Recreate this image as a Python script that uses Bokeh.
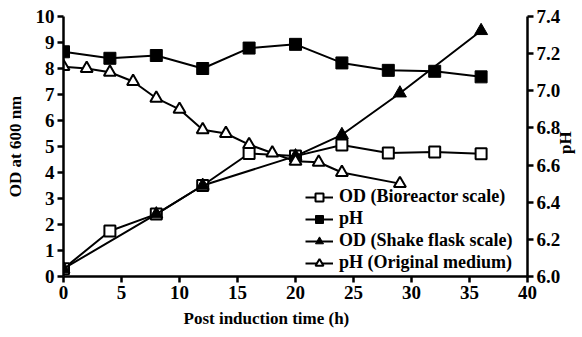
import math
from bokeh.plotting import figure
from bokeh.models import (Range1d, LinearAxis, FixedTicker, PrintfTickFormatter,
                          Legend, LegendItem, Title)
from bokeh.embed import file_html
from bokeh.resources import INLINE

# Bioreactor culture: OD and pH sampled every 4 h
t_bio = [0, 4, 8, 12, 16, 20, 24, 28, 32, 36]
od_bio = [0.3, 1.75, 2.4, 3.5, 4.73, 4.63, 5.06, 4.75, 4.79, 4.72]
ph_bio = [7.21, 7.175, 7.19, 7.12, 7.23, 7.25, 7.15, 7.11, 7.105, 7.075]

# Shake flask culture OD
t_flask = [0, 8, 12, 20, 24, 29, 36]
od_flask = [0.3, 2.4, 3.5, 4.63, 5.45, 7.05, 9.45]

# pH in the original medium
t_ph_orig = [0, 2, 4, 6, 8, 10, 12, 14, 16, 18, 20, 22, 24, 29]
ph_orig = [7.13, 7.12, 7.10, 7.05, 6.96, 6.90, 6.79, 6.77, 6.71, 6.665,
           6.62, 6.615, 6.56, 6.50]

x_ticks = [0, 5, 10, 15, 20, 25, 30, 35, 40]
od_ticks = [0, 1, 2, 3, 4, 5, 6, 7, 8, 9, 10]
ph_ticks = [6.0, 6.2, 6.4, 6.6, 6.8, 7.0, 7.2, 7.4]

FONT = "Liberation Serif"

p = figure(frame_width=464, frame_height=260,
           x_range=Range1d(0, 40), y_range=Range1d(0, 10),
           output_backend="svg", toolbar_location=None,
           min_border_left=63, min_border_right=55,
           min_border_top=16, min_border_bottom=10)
p.extra_y_ranges = {"ph": Range1d(6.0, 7.4)}
p.outline_line_color = None
p.grid.visible = False
p.background_fill_color = "white"
p.border_fill_color = "white"

ph_axis = LinearAxis(y_range_name="ph")
p.add_layout(ph_axis, "right")

for ax in [p.xaxis[0], p.yaxis[0], ph_axis]:
    ax.axis_line_width = 2.5
    ax.axis_line_color = "black"
    ax.major_tick_line_width = 2.5
    ax.major_tick_line_color = "black"
    ax.major_tick_in = 0
    ax.major_tick_out = 6
    ax.minor_tick_line_color = None
    ax.major_label_text_font = FONT
    ax.major_label_text_font_size = "19px"
    ax.major_label_text_font_style = "bold"
    ax.major_label_text_color = "black"
    ax.major_label_standoff = 3
    ax.axis_label_text_font = FONT
    ax.axis_label_text_font_size = "17px"
    ax.axis_label_text_font_style = "bold"
    ax.axis_label_text_color = "black"

p.xaxis[0].ticker = FixedTicker(ticks=x_ticks)
p.yaxis[0].ticker = FixedTicker(ticks=od_ticks)
ph_axis.ticker = FixedTicker(ticks=ph_ticks)
ph_axis.formatter = PrintfTickFormatter(format="%.1f")

p.yaxis[0].axis_label = "OD at 600 nm"
p.yaxis[0].axis_label_standoff = 8

# right-hand title "pH", written bottom to top like the left one:
# a bare axis whose single tick label carries the text
ph_title_pos = 6.66
ph_title = LinearAxis(y_range_name="ph",
                      ticker=FixedTicker(ticks=[ph_title_pos]),
                      major_label_overrides={ph_title_pos: "pH"},
                      major_label_orientation=math.pi / 2,
                      axis_line_color=None, major_tick_line_color=None,
                      minor_tick_line_color=None, major_tick_in=0,
                      major_tick_out=0, major_label_standoff=2,
                      major_label_text_font=FONT,
                      major_label_text_font_size="17px",
                      major_label_text_font_style="bold",
                      major_label_text_color="black")
p.add_layout(ph_title, "right")

xt = Title(text="Post induction time (h)", align="left", offset=120,
           text_font=FONT, text_font_size="17px", text_font_style="bold",
           text_color="black", standoff=10)
p.add_layout(xt, "below")

LW = 2
# OD, bioreactor scale (open squares)
l1 = p.line(t_bio, od_bio, line_width=LW, color="black")
m1 = p.scatter(t_bio, od_bio, marker="square", size=11, line_width=2,
               line_color="black", fill_color="white")
# pH, bioreactor (filled squares)
l2 = p.line(t_bio, ph_bio, line_width=LW, color="black", y_range_name="ph")
m2 = p.scatter(t_bio, ph_bio, marker="square", size=12, line_width=1,
               line_color="black", fill_color="black", y_range_name="ph")
# OD, shake flask scale (filled triangles)
l3 = p.line(t_flask, od_flask, line_width=LW, color="black")
m3 = p.scatter(t_flask, od_flask, marker="triangle", size=13, line_width=1,
               line_color="black", fill_color="black")
# pH, original medium (open triangles)
l4 = p.line(t_ph_orig, ph_orig, line_width=LW, color="black", y_range_name="ph")
m4 = p.scatter(t_ph_orig, ph_orig, marker="triangle", size=12, line_width=2,
               line_color="black", fill_color="white", y_range_name="ph")

legend = Legend(items=[
    LegendItem(label="OD (Bioreactor scale)", renderers=[l1, m1]),
    LegendItem(label="pH", renderers=[l2, m2]),
    LegendItem(label="OD (Shake flask scale)", renderers=[l3, m3]),
    LegendItem(label="pH (Original medium)", renderers=[l4, m4]),
], location=(242, 3))
legend.background_fill_alpha = 0
legend.border_line_color = None
legend.padding = 0
legend.margin = 0
legend.spacing = 1
legend.glyph_width = 28
legend.glyph_height = 20
legend.label_height = 20
legend.label_standoff = 6
legend.label_text_font = FONT
legend.label_text_font_size = "18px"
legend.label_text_font_style = "bold"
legend.label_text_color = "black"
p.add_layout(legend, "center")

open("out.html", "w").write(file_html(p, INLINE))
